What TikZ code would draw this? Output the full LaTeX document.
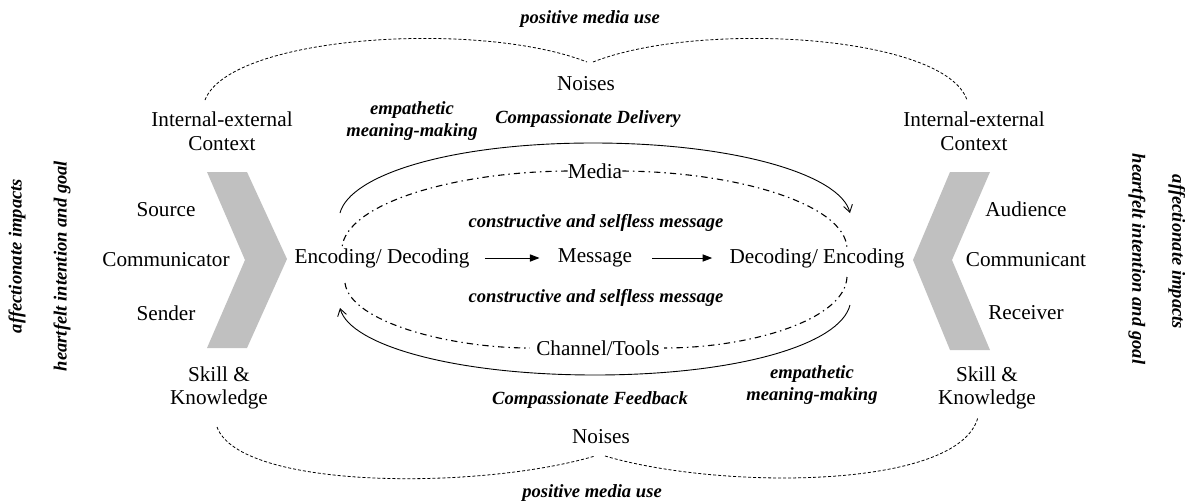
\documentclass[tikz,border=0pt]{standalone}
\usepackage{fontspec}
\setmainfont{Liberation Serif}
\usetikzlibrary{arrows.meta}
\definecolor{chevgray}{RGB}{192,192,192}
\tikzset{
  txt/.style={inner sep=0pt, align=center, font=\fontsize{10.6}{11.8}\selectfont},
  lbl/.style={inner sep=0pt, align=center, font=\fontsize{9.3}{11.2}\selectfont\bfseries\itshape},
  noise/.style={line width=0.4pt, dash pattern=on 1.5pt off 1pt},
  chan/.style={line width=0.55pt, dash pattern=on 3.2pt off 2pt on 0.7pt off 2pt},
  loop/.style={line width=0.45pt, -{Straight Barb[length=3.5pt,width=4.5pt]}},
  flow/.style={line width=0.45pt, -{Triangle[length=4.8pt,width=3.6pt]}},
  chev/.style={fill=chevgray, draw=none}
}
\begin{document}
\begin{tikzpicture}[x=0.5pt,y=-0.5pt]
\path[use as bounding box] (0,0) rectangle (1185,504);

% chevrons
\fill[chev] (207,172) -- (247,172) -- (287,259) -- (247,348) -- (207,348) -- (245,260) -- cycle;
\fill[chev] (950,172) -- (990,172) -- (952,260) -- (990,350) -- (950,350) -- (913,260) -- cycle;

% top and bottom labels
\node[lbl] (pmuT) at (590,19) {positive media use};
\node[lbl] (pmuB) at (592,493) {positive media use};
\node[txt] (noiT) at (586,84) {Noises};
\node[txt] (noiB) at (601,437) {Noises};
\node[txt] (ctxL) at (222,131) {Internal-external\\Context};
\node[txt] (ctxR) at (974,131) {Internal-external\\Context};
\node[txt] (skL) at (219,388) {Skill \&\\Knowledge};
\node[txt] (skR) at (987,388) {Skill \&\\Knowledge};
\node[lbl] (empT) at (412,121) {empathetic\\meaning-making};
\node[lbl] (empB) at (812,385) {empathetic\\meaning-making};
\node[lbl] (cdel) at (588,119) {Compassionate Delivery};
\node[lbl] (cfb) at (590,400) {Compassionate Feedback};

% central process
\node[txt] (media) at (595,171) {Media};
\node[txt] (chan) at (598,348) {Channel/Tools};
\node[lbl] (cstT) at (596,223) {constructive and selfless message};
\node[lbl] (cstB) at (596,298) {constructive and selfless message};
\node[txt] (enc) at (382,258) {Encoding/ Decoding};
\node[txt] (msg) at (595,258) {Message};
\node[txt] (dec) at (817,258) {Decoding/ Encoding};

% sender and receiver roles
\node[txt] (src) at (166,210) {Source};
\node[txt] (comm) at (166,260) {Communicator};
\node[txt] (sndr) at (166,313) {Sender};
\node[txt] (aud) at (1026,209) {Audience};
\node[txt] (commt) at (1026,260) {Communicant};
\node[txt] (rcv) at (1026,313) {Receiver};

% side labels
\node[lbl, rotate=90] (affL) at (17,256) {affectionate impacts};
\node[lbl, rotate=90] (hrtL) at (62,266) {heartfelt intention and goal};
\node[lbl, rotate=-90] (hrtR) at (1137,259) {heartfelt intention and goal};
\node[lbl, rotate=-90] (affR) at (1177,252) {affectionate impacts};

% message flow
\draw[flow, shorten <=7.5pt, shorten >=9pt] (enc.east) -- (msg.west);
\draw[flow, shorten <=10pt, shorten >=8.5pt] (msg.east) -- (dec.west);

% end points of the curved links
\coordinate (nTl) at (205,100);
\coordinate (nTm1) at (587,62);
\coordinate (nTm2) at (593,62);
\coordinate (nTr) at (967,100);
\coordinate (nBl) at (217,427);
\coordinate (nBm1) at (595,456);
\coordinate (nBm2) at (605,456);
\coordinate (nBr) at (978,417);
\coordinate (dTl) at (342,248);
\coordinate (dBl) at (345,283);
\coordinate (dTr) at (847,248);
\coordinate (dBr) at (847,277);
\coordinate (aTl) at (340,213);
\coordinate (aTr) at (850,213);
\coordinate (aBr) at (850,305);
\coordinate (aBl) at (340,308);

% noise links
\draw[noise] (nTl) .. controls (230,35) and (480,20) .. (nTm1);
\draw[noise] (nTm2) .. controls (700,20) and (945,35) .. (nTr);
\draw[noise] (nBl) .. controls (240,490) and (480,490) .. (nBm1);
\draw[noise] (nBm2) .. controls (720,490) and (960,490) .. (nBr);

% media and channel ring
\draw[chan] (media.west) .. controls (450,172) and (345,205) .. (dTl);
\draw[chan] (dBl) .. controls (350,322) and (450,348) .. ([xshift=-3pt]chan.west);
\draw[chan] (media.east) .. controls (740,172) and (845,205) .. (dTr);
\draw[chan] (dBr) .. controls (845,320) and (750,348) .. ([xshift=2pt]chan.east);

% delivery and feedback loops
\draw[loop] (aTl) .. controls (350,175) and (450,143) .. (593,143)
            .. controls (736,143) and (840,175) .. (aTr);
\draw[loop] (aBr) .. controls (840,345) and (736,375) .. (595,375)
            .. controls (454,375) and (350,345) .. (aBl);
\end{tikzpicture}
\end{document}
